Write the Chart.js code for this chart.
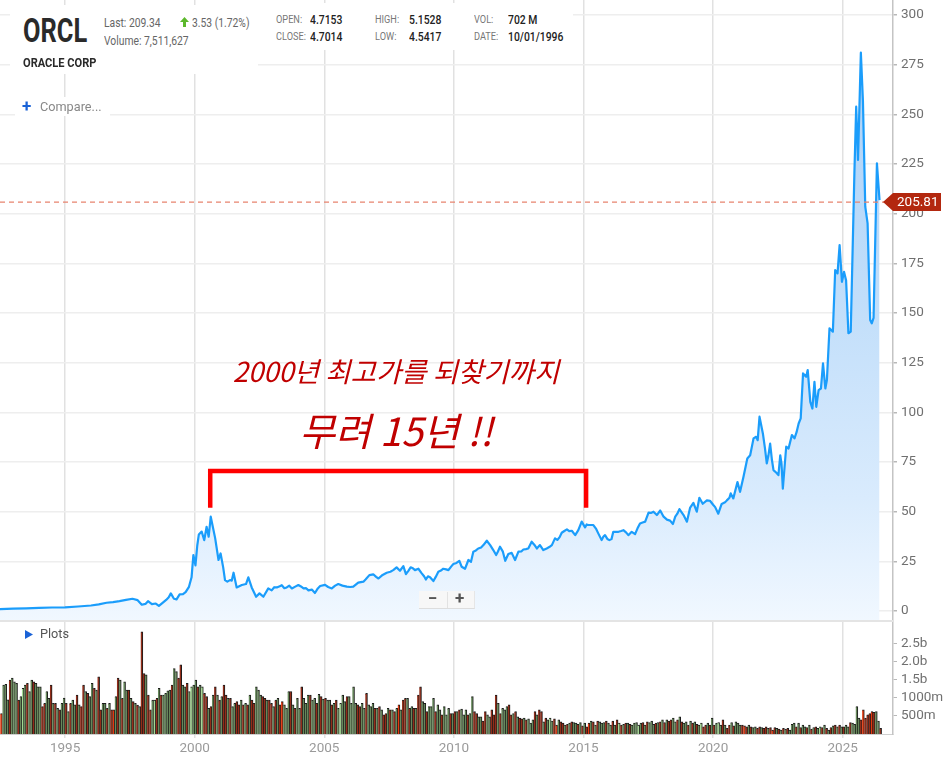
<!DOCTYPE html>
<html>
<head>
<meta charset="utf-8">
<script src="https://cdn.jsdelivr.net/npm/chart.js"></script>
<style>
  body { margin: 0; background: #fff; font-family: Roboto, "Noto Sans", sans-serif; }
  #wrap { position: relative; width: 945px; height: 764px; overflow: hidden; background: #fff; }
  canvas { position: absolute; left: 0; }
  .box { position: absolute; background: #fff; }
  .cv { position: absolute; white-space: nowrap; line-height: 1; transform: scaleX(.8); transform-origin: 0 0; }
  .lbl { color: #777; font-size: 11.5px; }
  .val { color: #222; font-size: 13px; font-weight: 500; }
  .note { position: absolute; left: 396px; transform: translateX(-50%); white-space: nowrap; line-height: 1;
          font-family: "Noto Sans CJK KR", sans-serif; font-style: italic; color: #c00000; }
</style>
</head>
<body>
<div id="wrap">
  <canvas id="priceChart" width="945" height="622" style="top:0"></canvas>
  <canvas id="volChart" width="945" height="142" style="top:622px"></canvas>

  <div style="position:absolute;left:0;top:620px;width:893px;height:2px;background:#e4e4e4"></div>

  <!-- quote header -->
  <div class="box" style="left:10px;top:5px;width:248px;height:69px"></div>
  <div class="box" style="left:258px;top:3px;width:315px;height:47px"></div>
  <div class="cv" style="left:23px;top:14px;font-size:33px;font-weight:700;color:#2a2a2a;transform:scaleX(.77)">ORCL</div>
  <div class="cv" style="left:104px;top:17px;font-size:12px;color:#666;transform:scaleX(.86)">Last: 209.34</div>
  <svg style="position:absolute;left:180px;top:17px" width="9" height="10" viewBox="0 0 9 10"><path d="M4.5 0 L9 5 L6 5 L6 10 L3 10 L3 5 L0 5 Z" fill="#5cb82c"/></svg>
  <div class="cv" style="left:192px;top:17px;font-size:12px;color:#666;transform:scaleX(.86)">3.53 (1.72%)</div>
  <div class="cv" style="left:104px;top:35px;font-size:12px;color:#666;transform:scaleX(.86)">Volume: 7,511,627</div>
  <div class="cv" style="left:23px;top:56px;font-size:13.2px;font-weight:700;color:#2a2a2a;transform:scaleX(.84)">ORACLE CORP</div>

  <div class="cv lbl" style="left:276px;top:13.5px">OPEN:</div>
  <div class="cv val" style="left:310px;top:12.5px">4.7153</div>
  <div class="cv lbl" style="left:276px;top:31px">CLOSE:</div>
  <div class="cv val" style="left:310px;top:30px">4.7014</div>
  <div class="cv lbl" style="left:375px;top:13.5px">HIGH:</div>
  <div class="cv val" style="left:409px;top:12.5px">5.1528</div>
  <div class="cv lbl" style="left:375px;top:31px">LOW:</div>
  <div class="cv val" style="left:409px;top:30px">4.5417</div>
  <div class="cv lbl" style="left:474px;top:13.5px">VOL:</div>
  <div class="cv val" style="left:508px;top:12.5px">702 M</div>
  <div class="cv lbl" style="left:474px;top:31px">DATE:</div>
  <div class="cv val" style="left:508px;top:30px">10/01/1996</div>

  <div class="box" style="left:15px;top:97px;width:95px;height:19px"></div>
  <div style="position:absolute;left:22px;top:98px;font-size:17px;font-weight:700;line-height:1;color:#1a62d6">+</div>
  <div style="position:absolute;left:40px;top:101px;font-size:12.7px;line-height:1;color:#888">Compare...</div>

  <!-- zoom buttons -->
  <div style="position:absolute;left:419px;top:591px;width:55px;height:17px;background:#f7f7f7;border-bottom:1px solid #ddd;border-right:1px solid #e6e6e6"></div>
  <div style="position:absolute;left:447px;top:592px;width:1px;height:16px;background:#e2e2e2"></div>
  <div style="position:absolute;left:428px;top:590px;font-size:17px;font-weight:700;line-height:1;color:#555">&minus;</div>
  <div style="position:absolute;left:455px;top:590px;font-size:17px;font-weight:700;line-height:1;color:#555">+</div>

  <!-- plots row -->
  <svg style="position:absolute;left:25px;top:630px" width="9" height="9" viewBox="0 0 9 9"><path d="M0 0 L8 4.5 L0 9 Z" fill="#1a62d6"/></svg>
  <div style="position:absolute;left:40px;top:628px;font-size:12.7px;line-height:1;color:#555">Plots</div>

  <!-- annotation -->
  <div class="note" style="top:357px;font-size:27.5px">2000년 최고가를 되찾기까지</div>
  <div class="note" style="top:410px;font-size:39px">무려 15년 !!</div>
</div>

<script>
// price line, decimal year -> closing price
const priceDates = [
  1992.49, 1993.0, 1993.5, 1994.0, 1994.5, 1995.0, 1995.5, 1996.0, 1996.3, 1996.6, 1996.85,
  1997.1, 1997.35, 1997.6, 1997.8, 1997.96, 1998.1, 1998.2, 1998.35, 1998.5, 1998.62, 1998.75, 1998.9,
  1999.0, 1999.08, 1999.2, 1999.3, 1999.42, 1999.55, 1999.65, 1999.78, 1999.88, 1999.95,
  2000.03, 2000.1, 2000.16, 2000.27, 2000.37, 2000.46, 2000.54, 2000.62, 2000.79, 2000.92,
  2001.0, 2001.1, 2001.17, 2001.26, 2001.36, 2001.43, 2001.5, 2001.62, 2001.72, 2001.82, 2001.98,
  2002.07, 2002.2, 2002.37, 2002.5, 2002.58, 2002.65, 2002.84, 2002.97,
  2003.07, 2003.17, 2003.28, 2003.36, 2003.46, 2003.55, 2003.65, 2003.75, 2003.88,
  2004.0, 2004.1, 2004.2, 2004.3, 2004.39, 2004.52, 2004.64, 2004.75, 2004.84,
  2005.03, 2005.15, 2005.29, 2005.42, 2005.54, 2005.7, 2005.87,
  2006.0, 2006.12, 2006.31, 2006.51, 2006.6, 2006.74, 2006.89,
  2007.0, 2007.09, 2007.25, 2007.41, 2007.55, 2007.66, 2007.79, 2007.92,
  2008.05, 2008.15, 2008.25, 2008.33, 2008.42, 2008.5, 2008.63, 2008.76, 2008.85, 2008.92,
  2009.0, 2009.08, 2009.21, 2009.3, 2009.4, 2009.5, 2009.59, 2009.7, 2009.79, 2009.9, 2009.98,
  2010.1, 2010.21, 2010.3, 2010.43, 2010.56, 2010.66, 2010.75, 2010.85, 2010.94,
  2011.05, 2011.14, 2011.27, 2011.4, 2011.52, 2011.63, 2011.7, 2011.78, 2011.89, 2011.98,
  2012.1, 2012.23, 2012.36, 2012.49, 2012.6, 2012.68, 2012.78, 2012.87,
  2013.0, 2013.1, 2013.2, 2013.32, 2013.45, 2013.58, 2013.68, 2013.78, 2013.9, 2013.99,
  2014.08, 2014.16, 2014.26, 2014.36, 2014.45, 2014.55, 2014.68, 2014.8, 2014.93,
  2015.06, 2015.12, 2015.19, 2015.38, 2015.48, 2015.57, 2015.7, 2015.77, 2015.83, 2015.92,
  2016.0, 2016.08, 2016.15, 2016.35, 2016.45, 2016.54, 2016.65, 2016.73, 2016.86, 2016.99,
  2017.08, 2017.18, 2017.28, 2017.38, 2017.51, 2017.6, 2017.7, 2017.83, 2017.96,
  2018.09, 2018.22, 2018.34, 2018.45, 2018.54, 2018.62, 2018.7, 2018.86, 2018.99,
  2019.11, 2019.24, 2019.37, 2019.47, 2019.6, 2019.76, 2019.88,
  2020.0, 2020.08, 2020.2, 2020.33, 2020.46, 2020.53, 2020.63, 2020.68, 2020.78, 2020.94,
  2021.04, 2021.17, 2021.32, 2021.43, 2021.56, 2021.66, 2021.72, 2021.79, 2021.92,
  2022.0, 2022.07, 2022.13, 2022.2, 2022.27, 2022.33, 2022.45, 2022.52, 2022.59, 2022.64, 2022.69, 2022.82, 2022.91,
  2023.04, 2023.14, 2023.22, 2023.3, 2023.38, 2023.47, 2023.59, 2023.65, 2023.75, 2023.83, 2023.91, 2023.98,
  2024.07, 2024.16, 2024.24, 2024.33, 2024.39, 2024.49, 2024.62, 2024.71, 2024.8, 2024.88, 2024.97,
  2025.05, 2025.13, 2025.22, 2025.31, 2025.45, 2025.52, 2025.59, 2025.7, 2025.78, 2025.87, 2025.96,
  2026.06, 2026.12, 2026.19, 2026.32, 2026.42
];
const priceValues = [
  1.0, 1.2, 1.4, 1.6, 1.8, 1.9, 2.3, 2.8, 3.4, 4.2, 4.5,
  5.0, 5.6, 6.2, 5.5, 3.2, 3.6, 5.0, 3.5, 3.8, 2.6, 4.0, 5.6,
  7.0, 8.9, 6.2, 5.9, 8.4, 8.5, 9.5, 12.2, 17.0, 28.2,
  23.0, 33.0, 38.5, 40.0, 35.7, 42.4, 37.4, 47.5, 36.7, 25.7,
  29.0, 22.0, 15.6, 14.8, 15.6, 15.3, 19.3, 11.9, 12.5, 13.1, 13.6,
  17.0, 11.9, 7.2, 8.9, 8.0, 7.2, 11.4, 10.4,
  12.0, 11.9, 12.5, 13.0, 11.5, 11.9, 12.8, 11.4, 12.3,
  13.1, 12.4, 11.4, 11.5, 10.4, 10.8, 9.1, 11.4, 12.6,
  13.2, 12.1, 11.4, 12.8, 13.6, 12.8, 12.3,
  12.1, 12.3, 14.3, 14.8, 16.0, 18.1, 18.5,
  17.2, 16.4, 18.2, 19.3, 19.8, 20.6, 22.0, 20.3,
  22.6, 18.6, 20.4, 22.0, 21.5, 20.6, 21.3, 19.0, 17.5, 15.9,
  17.5, 17.0, 15.1, 17.2, 19.8, 20.4, 21.3, 21.0, 20.6, 22.5, 23.7,
  24.2, 25.3, 22.3, 21.3, 25.7, 24.8, 29.9, 30.5, 31.5,
  32.0, 33.2, 35.4, 33.2, 30.7, 28.2, 30.0, 32.4, 29.9, 25.3,
  28.7, 29.3, 25.7, 29.9, 30.0, 31.0, 31.2, 31.5,
  34.9, 33.4, 31.5, 33.2, 30.7, 31.5, 32.2, 33.2, 36.6, 35.8,
  37.2, 39.4, 40.3, 41.1, 40.2, 40.4, 38.2, 40.7, 45.0,
  42.1, 43.6, 43.3, 43.3, 41.5, 39.1, 35.7, 37.5, 38.2, 36.3,
  35.7, 36.2, 39.9, 39.9, 40.3, 40.7, 39.5, 38.2, 39.9, 38.7,
  41.5, 44.1, 44.6, 45.0, 49.5, 49.4, 50.0, 48.3, 50.6,
  47.5, 46.0, 45.5, 43.8, 47.5, 49.0, 51.3, 48.3, 45.0,
  51.9, 54.4, 50.0, 57.0, 54.0, 55.7, 55.5,
  53.5, 52.3, 49.0, 53.9, 54.7, 55.7, 57.0, 59.2, 56.7, 64.9,
  60.0, 67.5, 76.8, 78.4, 86.9, 87.7, 86.0, 97.8, 89.4,
  82.0, 74.3, 78.0, 84.3, 76.0, 70.9, 69.5, 68.4, 78.4, 74.0, 61.6, 82.7, 81.8,
  88.6, 86.9, 90.0, 94.4, 97.0, 119.6, 117.9, 121.3, 105.3, 101.9, 115.4, 102.8,
  111.2, 112.0, 124.6, 112.0, 116.3, 142.3, 140.6, 171.6, 169.9, 184.2, 165.7,
  170.7, 166.5, 139.8, 140.6, 220.0, 253.8, 227.0, 281.0, 256.8, 203.5, 195.1,
  146.5, 144.8, 147.5, 225.3, 206.8
];
const lastPrice = 205.81;
const priceTicks = [0, 25, 50, 75, 100, 125, 150, 175, 200, 225, 250, 275, 300];
const yearTicks = [1995, 2000, 2005, 2010, 2015, 2020, 2025];

// monthly volume in billions of shares, one row per year starting July 1992
const volumeFirstYear = 1992;
const volumeFirstMonth = 6;
const volumeByYear = [
  [0.57, 1.36, 1.38, 0.95, 1.50, 1.55],
  [1.45, 1.41, 0.94, 1.04, 1.27, 1.36, 1.41, 1.18, 1.50, 1.45, 1.41, 1.31],
  [1.31, 0.76, 0.85, 1.18, 0.99, 1.36, 0.85, 0.85, 0.71, 0.67, 0.85, 1.00],
  [0.85, 0.62, 0.85, 0.94, 0.81, 1.08, 0.81, 0.76, 1.36, 1.18, 1.13, 1.04],
  [1.41, 1.27, 1.22, 1.59, 0.67, 0.85, 0.85, 0.71, 0.85, 0.67, 0.67, 1.04],
  [1.55, 1.50, 0.99, 1.45, 1.22, 1.22, 0.99, 0.90, 0.85, 0.80, 0.76, 2.84],
  [1.68, 1.64, 1.08, 0.67, 0.94, 0.94, 0.99, 1.27, 1.08, 1.08, 1.13, 1.20],
  [1.22, 1.36, 1.82, 1.73, 1.55, 1.92, 1.36, 1.31, 1.41, 1.18, 1.31, 1.36],
  [1.50, 1.31, 1.36, 1.31, 1.13, 1.04, 0.71, 0.76, 1.08, 1.31, 1.08, 0.94],
  [1.04, 1.36, 1.08, 0.99, 0.99, 0.76, 0.85, 0.90, 0.81, 0.94, 0.81, 0.85],
  [0.81, 1.08, 0.94, 0.85, 1.31, 1.22, 1.08, 1.04, 0.99, 0.94, 0.94, 0.85],
  [0.76, 0.94, 0.99, 0.81, 0.90, 0.81, 0.71, 1.18, 1.18, 0.81, 0.71, 0.99],
  [0.71, 1.31, 0.99, 0.85, 1.08, 1.08, 0.94, 0.99, 0.85, 1.10, 1.04, 0.97],
  [0.99, 0.94, 0.94, 0.81, 0.85, 0.94, 0.71, 0.85, 1.08, 0.90, 1.04, 1.04],
  [0.85, 1.31, 0.85, 0.81, 0.76, 0.85, 0.71, 1.13, 0.81, 0.76, 0.85, 0.71],
  [0.71, 0.76, 0.67, 0.53, 0.57, 0.71, 0.67, 0.67, 0.62, 0.71, 0.81, 0.67],
  [0.94, 0.99, 0.99, 0.71, 0.76, 0.71, 0.71, 1.08, 1.31, 0.90, 0.85, 0.62],
  [0.76, 0.76, 0.99, 0.62, 0.81, 0.67, 0.53, 0.76, 0.53, 0.71, 0.57, 0.57],
  [0.62, 0.62, 0.67, 0.69, 0.53, 0.67, 0.53, 0.57, 1.04, 0.62, 0.57, 0.48],
  [0.48, 0.36, 0.62, 0.53, 0.48, 0.67, 0.53, 1.08, 0.85, 0.57, 0.71, 0.67],
  [0.76, 0.81, 0.53, 0.57, 0.62, 0.48, 0.44, 0.42, 0.44, 0.39, 0.42, 0.30],
  [0.39, 0.62, 0.53, 0.67, 0.62, 0.34, 0.44, 0.39, 0.44, 0.36, 0.42, 0.25],
  [0.39, 0.34, 0.30, 0.25, 0.27, 0.30, 0.34, 0.32, 0.30, 0.27, 0.32, 0.23],
  [0.30, 0.20, 0.30, 0.36, 0.34, 0.25, 0.36, 0.34, 0.30, 0.32, 0.36, 0.30],
  [0.25, 0.36, 0.25, 0.39, 0.30, 0.25, 0.27, 0.30, 0.30, 0.27, 0.25, 0.30],
  [0.32, 0.25, 0.30, 0.32, 0.25, 0.34, 0.32, 0.36, 0.27, 0.30, 0.32, 0.34],
  [0.39, 0.32, 0.39, 0.36, 0.39, 0.44, 0.34, 0.39, 0.48, 0.34, 0.30, 0.34],
  [0.25, 0.36, 0.30, 0.34, 0.27, 0.25, 0.30, 0.20, 0.25, 0.30, 0.25, 0.44],
  [0.25, 0.30, 0.32, 0.25, 0.39, 0.25, 0.16, 0.25, 0.32, 0.23, 0.34, 0.30],
  [0.25, 0.25, 0.23, 0.20, 0.25, 0.20, 0.18, 0.20, 0.16, 0.20, 0.18, 0.16],
  [0.20, 0.16, 0.18, 0.11, 0.18, 0.16, 0.14, 0.11, 0.16, 0.14, 0.16, 0.11],
  [0.27, 0.30, 0.20, 0.30, 0.18, 0.25, 0.20, 0.18, 0.25, 0.14, 0.18, 0.20],
  [0.16, 0.20, 0.18, 0.25, 0.16, 0.11, 0.18, 0.23, 0.25, 0.20, 0.25, 0.20],
  [0.20, 0.25, 0.20, 0.32, 0.30, 0.27, 0.76, 0.44, 0.39, 0.67, 0.44, 0.53],
  [0.57, 0.62, 0.60, 0.62, 0.36, 0.16]
];
// bar tone per month: g = up, r = down, G / R = highlighted
const volumeDirByYear = [
  'Rgggrg', 'ggrgGgrggrgg', 'grrggrgrgrgg', 'rgrggrgrrgrg', 'grgrrggrgrRg', 'rgrggrgrgrgr',
  'rgrrgGrgrggg', 'grggrrggrgGg', 'grgGrrgrgrgr', 'grrgrggrrgrg', 'rgrrgggrrgrr', 'grgrRgggrgrg',
  'grgggrggrgrg', 'rggrgrgGggrg', 'gggrrggrgggr', 'grgrrgrgrgRg', 'rrgrgrgrrggr', 'gggrggrgggrg',
  'rgrgggrggrrg', 'grrggrrrgrgg', 'grrgrgrrgrgg', 'grgrrgrgGgrR', 'grrgrgrggrgr', 'grRgrgrgggrg',
  'grgrGrgrgrgg', 'gGgrgrgggrgr', 'grgrrggrgrgg', 'rgrgrgGrrgrg', 'rgGgrgrrgrgg', 'grRrgrggrrgr',
  'rgrRrgrgrgrg', 'ggrgrggrgrgr', 'gGrgrgrgrgrg', 'rggrggggrRrr', 'rRrggr'
];
const volumeTicks = [0.5, 1.0, 1.5, 2.0, 2.5];

// annotation bracket: from the 2000 peak to the 2015 recovery
const bracketYears = [2000.6, 2015.1];
const bracketLevels = [70.5, 52];

const xMin = 1992.49, xMax = 2026.94;

Chart.defaults.font.family = 'Roboto, "Noto Sans", sans-serif';
Chart.defaults.color = '#777';

const toneColors = { g: '#66885a', r: '#922d19', G: '#a4d992', R: '#e6380e' };

const volPoints = [];
const volTones = [];
volumeByYear.forEach((row, r) => {
  const year = volumeFirstYear + r;
  const start = r === 0 ? volumeFirstMonth : 0;
  row.forEach((v, k) => {
    volPoints.push({ x: year + (start + k + 0.5) / 12, y: v });
    volTones.push(volumeDirByYear[r][k] || 'g');
  });
});

function areaFill(context) {
  const chart = context.chart;
  const area = chart.chartArea;
  if (!area) return 'rgba(200,225,250,0.6)';
  const g = chart.ctx.createLinearGradient(0, area.top, 0, area.bottom);
  g.addColorStop(0, 'rgb(168,207,247)');
  g.addColorStop(0.48, 'rgb(193,222,250)');
  g.addColorStop(0.8, 'rgb(217,235,253)');
  g.addColorStop(1, 'rgb(241,248,255)');
  return g;
}

const overlay = {
  id: 'overlay',
  afterDatasetsDraw(chart) {
    const { ctx, chartArea, scales } = chart;
    const ly = scales.y.getPixelForValue(lastPrice);
    ctx.save();
    ctx.strokeStyle = '#e8846f';
    ctx.lineWidth = 1.2;
    ctx.setLineDash([5, 4]);
    ctx.beginPath();
    ctx.moveTo(chartArea.left, ly);
    ctx.lineTo(chartArea.right, ly);
    ctx.stroke();
    ctx.setLineDash([]);

    const x1 = scales.x.getPixelForValue(bracketYears[0]);
    const x2 = scales.x.getPixelForValue(bracketYears[1]);
    const yt = scales.y.getPixelForValue(bracketLevels[0]);
    const yb = scales.y.getPixelForValue(bracketLevels[1]);
    ctx.strokeStyle = '#ff0000';
    ctx.lineWidth = 4.5;
    ctx.lineJoin = 'miter';
    ctx.beginPath();
    ctx.moveTo(x1, yb);
    ctx.lineTo(x1, yt);
    ctx.lineTo(x2, yt);
    ctx.lineTo(x2, yb);
    ctx.stroke();
    ctx.restore();
  },
  afterDraw(chart) {
    const { ctx, chartArea, scales } = chart;
    const ly = scales.y.getPixelForValue(lastPrice);
    const r = chartArea.right;
    ctx.save();
    ctx.fillStyle = '#b3280f';
    ctx.beginPath();
    ctx.moveTo(r - 10, ly);
    ctx.lineTo(r, ly - 9);
    ctx.lineTo(r + 48, ly - 9);
    ctx.lineTo(r + 48, ly + 9);
    ctx.lineTo(r, ly + 9);
    ctx.closePath();
    ctx.fill();
    ctx.fillStyle = '#fff';
    ctx.font = '13.5px Roboto';
    ctx.textBaseline = 'middle';
    ctx.fillText(lastPrice.toFixed(2), r + 4, ly + 0.5);
    ctx.restore();
  }
};

new Chart(document.getElementById('priceChart'), {
  type: 'line',
  data: {
    datasets: [{
      data: priceDates.map((d, i) => ({ x: d, y: priceValues[i] })),
      borderColor: '#1b9dfb',
      borderWidth: 2.2,
      borderJoinStyle: 'round',
      pointRadius: 0,
      tension: 0,
      fill: 'start',
      backgroundColor: areaFill
    }]
  },
  options: {
    responsive: false,
    animation: false,
    events: [],
    layout: { padding: 0 },
    plugins: { legend: { display: false }, tooltip: { enabled: false } },
    scales: {
      x: {
        type: 'linear',
        min: xMin,
        max: xMax,
        ticks: { display: false },
        grid: { color: '#e1e1e1', lineWidth: 1.5, drawTicks: false },
        border: { display: false },
        afterBuildTicks: s => { s.ticks = yearTicks.map(v => ({ value: v })); },
        afterFit: s => { s.height = 0; s.paddingLeft = 0; s.paddingRight = 0; }
      },
      y: {
        type: 'linear',
        position: 'right',
        min: -5.5,
        max: 307.5,
        grid: { color: '#eeeeee', lineWidth: 1.5, tickLength: 4, tickColor: '#b8b8b8' },
        border: { display: true, color: '#c4c4c4', width: 1.5 },
        ticks: { padding: 4, color: '#707070', font: { size: 13.5 } },
        afterBuildTicks: s => { s.ticks = priceTicks.map(v => ({ value: v })); },
        afterFit: s => { s.width = 52; s.paddingTop = 0; s.paddingBottom = 0; }
      }
    }
  },
  plugins: [overlay]
});

new Chart(document.getElementById('volChart'), {
  type: 'bar',
  data: {
    datasets: [{
      data: volPoints,
      backgroundColor: c => toneColors[volTones[c.dataIndex]] || toneColors.g,
      borderColor: '#1c1c1c',
      borderWidth: { top: 1, right: 1, left: 0, bottom: 0 },
      borderSkipped: false,
      barPercentage: 1,
      categoryPercentage: 1
    }]
  },
  options: {
    responsive: false,
    animation: false,
    events: [],
    layout: { padding: 0 },
    plugins: { legend: { display: false }, tooltip: { enabled: false } },
    scales: {
      x: {
        type: 'linear',
        min: xMin,
        max: xMax,
        offset: false,
        grid: { offset: false, color: '#e1e1e1', lineWidth: 1.5, tickLength: 4 },
        border: { display: true, color: '#d0d0d0' },
        ticks: { padding: 3, color: '#9a9a9a', font: { size: 13.5 }, callback: v => String(v) },
        afterBuildTicks: s => { s.ticks = yearTicks.map(v => ({ value: v })); },
        afterFit: s => { s.height = 30; s.paddingLeft = 0; s.paddingRight = 0; }
      },
      y: {
        type: 'linear',
        position: 'right',
        min: 0,
        max: 3.11,
        grid: { drawOnChartArea: false, tickLength: 4, tickColor: '#b8b8b8' },
        border: { display: true, color: '#c4c4c4', width: 1.5 },
        ticks: {
          padding: 4, color: '#707070', font: { size: 13.5 },
          callback: v => v < 1.25 ? Math.round(v * 1000) + 'm' : v.toFixed(1) + 'b'
        },
        afterBuildTicks: s => { s.ticks = volumeTicks.map(v => ({ value: v })); },
        afterFit: s => { s.width = 52; s.paddingTop = 0; s.paddingBottom = 0; }
      }
    }
  }
});
</script>
</body>
</html>
